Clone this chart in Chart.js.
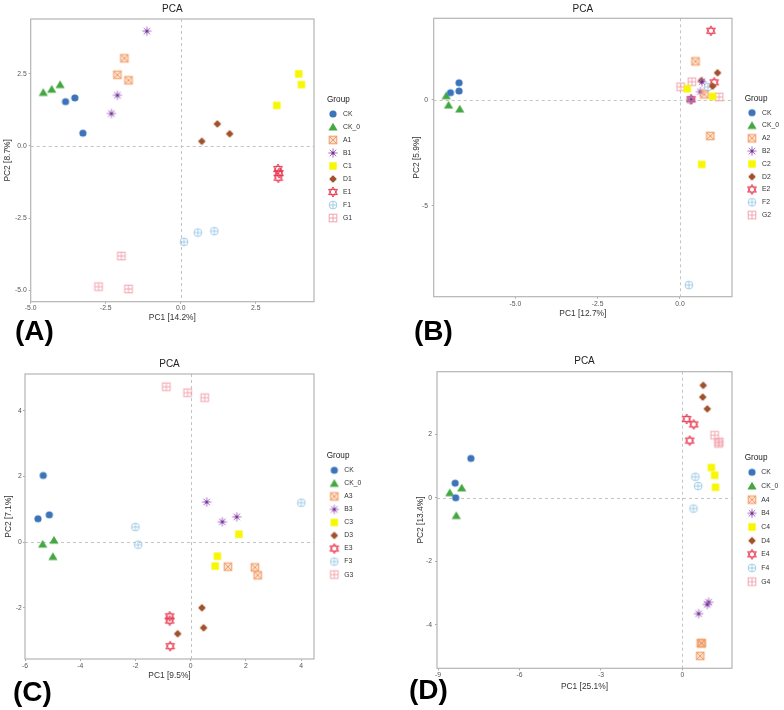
<!DOCTYPE html>
<html><head><meta charset="utf-8">
<script src="https://cdn.jsdelivr.net/npm/chart.js@4"></script>
<style>
body{margin:0;background:#fff;width:784px;height:710px;position:relative;overflow:hidden;font-family:"Liberation Sans",Arial,sans-serif}
.pan{position:absolute;width:392px;height:355px}
.lab{position:absolute;font-weight:bold;font-size:28px;line-height:28px;color:#000;white-space:nowrap}
</style></head><body>
<div class="pan" style="left:0;top:0"><canvas id="cA" width="392" height="355"></canvas></div>
<div class="pan" style="left:392px;top:0"><canvas id="cB" width="392" height="355"></canvas></div>
<div class="pan" style="left:0;top:355px"><canvas id="cC" width="392" height="355"></canvas></div>
<div class="pan" style="left:392px;top:355px"><canvas id="cD" width="392" height="355"></canvas></div>
<div class="lab" style="left:15px;top:317px">(A)</div>
<div class="lab" style="left:414px;top:317px">(B)</div>
<div class="lab" style="left:13px;top:678px">(C)</div>
<div class="lab" style="left:409px;top:676px">(D)</div>
<script>
// ---------- DATA ----------
const groupsA = ["CK","CK_0","A1","B1","C1","D1","E1","F1","G1"];
const xA = [[-3.84,-3.53,-3.26],[-4.58,-4.30,-4.02],[-1.88,-2.11,-1.74],[-1.13,-2.11,-2.31],[3.93,4.02,3.20],[1.22,1.63,0.70],[3.24,3.27,3.25],[0.11,0.57,1.12],[-1.98,-2.74,-1.74]];
const yA = [[1.53,1.66,0.44],[1.85,1.96,2.12],[3.03,2.46,2.27],[3.97,1.75,1.12],[2.49,2.12,1.40],[0.76,0.42,0.16],[-0.80,-0.94,-1.10],[-3.32,-3.00,-2.95],[-3.81,-4.87,-4.95]];
const xTicksA = [-5.0,-2.5,0.0,2.5];
const yTicksA = [-5.0,-2.5,0.0,2.5];

const groupsB = ["CK","CK_0","A2","B2","C2","D2","E2","F2","G2"];
const xB = [[-6.71,-6.97,-6.71],[-7.10,-7.03,-6.69],[0.47,0.92,0.74],[0.67,0.62,0.34],[0.22,0.99,0.66],[0.65,1.14,0.99],[0.94,1.04,0.34],[0.27,0.85,0.31],[0.02,0.36,1.19]];
const yB = [[0.80,0.33,0.41],[0.19,-0.25,-0.44],[1.81,-1.71,0.25],[0.85,0.38,0.02],[0.52,0.16,-3.05],[0.90,1.27,0.64],[3.25,0.82,0.02],[-8.74,0.60,-0.02],[0.61,0.85,0.13]];
const xTicksB = [-5.0,-2.5,0.0];
const yTicksB = [-5,0];

const groupsC = ["CK","CK_0","A3","B3","C3","D3","E3","F3","G3"];
const xC = [[-5.34,-5.53,-5.12],[-5.36,-4.95,-4.99],[1.35,2.33,2.43],[0.58,1.15,1.67],[1.75,0.97,0.89],[0.41,0.47,-0.47],[-0.76,-0.76,-0.74],[-2.00,-1.90,4.01],[-0.88,-0.11,0.51]];
const yC = [[2.03,0.71,0.83],[-0.06,0.06,-0.44],[-0.75,-0.77,-1.01],[1.22,0.62,0.77],[0.24,-0.43,-0.73],[-2.00,-2.61,-2.79],[-2.26,-2.39,-3.17],[0.46,-0.08,1.20],[4.73,4.55,4.40]];
const xTicksC = [-6,-4,-2,0,2,4];
const yTicksC = [-2,0,2,4];

const groupsD = ["CK","CK_0","A4","B4","C4","D4","E4","F4","G4"];
const xD = [[-7.79,-8.37,-8.35],[-8.57,-8.13,-8.33],[0.68,0.72,0.66],[0.97,0.92,0.60],[1.07,1.19,1.22],[0.77,0.75,0.92],[0.16,0.42,0.27],[0.48,0.58,0.41],[1.19,1.36,1.33]];
const yD = [[1.24,0.46,0.00],[0.16,0.31,-0.56],[-4.58,-4.58,-4.98],[-3.29,-3.36,-3.65],[0.95,0.71,0.33],[3.54,3.17,2.80],[2.48,2.31,1.80],[0.66,0.37,-0.34],[1.97,1.76,1.71]];
const xTicksD = [-9,-6,-3,0];
const yTicksD = [-4,-2,0,2];

// ---------- STYLE ----------
const FF = '"Liberation Sans", Arial, sans-serif';
const colors = ['#3B74B9','#45A743','#F29A62','#A76BC2','#F7F700','#A0522D','#E8364E','#A3CDE8','#F2A3AE'];

function mk(draw){const c=document.createElement('canvas');c.width=12;c.height=12;const x=c.getContext('2d');draw(x,6);return c;}
const markers = [
  mk((x,c)=>{x.fillStyle=colors[0];x.beginPath();x.arc(c,c,3.6,0,Math.PI*2);x.fill();}),
  mk((x,c)=>{x.fillStyle=colors[1];x.beginPath();x.moveTo(c,c-4.3);x.lineTo(c+4.6,c+3.5);x.lineTo(c-4.6,c+3.5);x.closePath();x.fill();}),
  mk((x,c)=>{x.fillStyle='rgba(242,154,98,0.28)';x.fillRect(c-3.8,c-3.8,7.6,7.6);x.strokeStyle=colors[2];x.lineWidth=1;x.strokeRect(c-3.8,c-3.8,7.6,7.6);x.beginPath();x.moveTo(c-3.8,c-3.8);x.lineTo(c+3.8,c+3.8);x.moveTo(c+3.8,c-3.8);x.lineTo(c-3.8,c+3.8);x.stroke();}),
  mk((x,c)=>{x.strokeStyle=colors[3];x.lineWidth=1;x.beginPath();for(let k=0;k<4;k++){const a=k*Math.PI/4;x.moveTo(c-4.6*Math.cos(a),c-4.6*Math.sin(a));x.lineTo(c+4.6*Math.cos(a),c+4.6*Math.sin(a));}x.stroke();x.fillStyle='#6E2F8E';x.beginPath();x.arc(c,c,1.5,0,Math.PI*2);x.fill();}),
  mk((x,c)=>{x.fillStyle=colors[4];x.fillRect(c-3.7,c-3.7,7.4,7.4);}),
  mk((x,c)=>{x.fillStyle=colors[5];x.beginPath();x.arc(c,c,2.5,0,Math.PI*2);x.fill();x.fillRect(c-3.3,c-1.3,6.6,2.6);x.fillRect(c-1.3,c-3.3,2.6,6.6);}),
  mk((x,c)=>{x.strokeStyle=colors[6];x.lineWidth=1;x.beginPath();x.moveTo(c,c-5);x.lineTo(c+4.4,c+2.6);x.lineTo(c-4.4,c+2.6);x.closePath();x.moveTo(c,c+5);x.lineTo(c+4.4,c-2.6);x.lineTo(c-4.4,c-2.6);x.closePath();x.stroke();}),
  mk((x,c)=>{x.strokeStyle=colors[7];x.lineWidth=1;x.beginPath();x.arc(c,c,3.9,0,Math.PI*2);x.moveTo(c-3.9,c);x.lineTo(c+3.9,c);x.moveTo(c,c-3.9);x.lineTo(c,c+3.9);x.stroke();}),
  mk((x,c)=>{x.strokeStyle=colors[8];x.lineWidth=1;x.strokeRect(c-3.8,c-3.8,7.6,7.6);x.beginPath();x.moveTo(c-3.8,c);x.lineTo(c+3.8,c);x.moveTo(c,c-3.8);x.lineTo(c,c+3.8);x.stroke();})
];

const framePlugin = {
  id:'frame',
  beforeDatasetsDraw(chart){
    const {ctx,chartArea:a,scales:{x,y}} = chart;
    ctx.save();
    ctx.strokeStyle='#C4C4C4';ctx.lineWidth=1;ctx.setLineDash([3,3]);
    const px=Math.round(x.getPixelForValue(0))+0.5, py=Math.round(y.getPixelForValue(0))+0.5;
    ctx.beginPath();ctx.moveTo(px,a.top);ctx.lineTo(px,a.bottom);ctx.moveTo(a.left,py);ctx.lineTo(a.right,py);ctx.stroke();
    ctx.setLineDash([]);ctx.strokeStyle='#B4B4B4';ctx.lineWidth=1.2;
    ctx.strokeRect(a.left,a.top,a.right-a.left,a.bottom-a.top);
    ctx.restore();
  }
};
const legendPlugin = {
  id:'lg',
  afterDraw(chart,args,o){
    const ctx=chart.ctx;ctx.save();
    ctx.textBaseline='middle';ctx.textAlign='left';
    ctx.fillStyle='#222';ctx.font='8.2px '+FF;
    ctx.fillText('Group',o.gx,o.gy);
    ctx.font='6.8px '+FF;ctx.fillStyle='#333';
    chart.data.datasets.forEach((d,i)=>{
      const yy=o.y0+i*o.dy;const m=markers[i];
      ctx.drawImage(m,o.mx-m.width/2,yy-m.height/2);
      ctx.fillText(d.label,o.tx,yy);
    });
    ctx.restore();
  }
};

function makePanel(id,groups,xs,ys,xt,yt,xfmt,yfmt,xtitle,ytitle,g){
  const W=392,H=355;
  const datasets=groups.map((lab,i)=>({
    label:lab,
    data:xs[i].map((v,j)=>({x:v,y:ys[i][j]})),
    pointStyle:markers[i],pointRadius:4,pointHoverRadius:4,
    backgroundColor:colors[i],borderColor:colors[i],showLine:false
  }));
  const tickFont={family:FF,size:6.8};
  const titleFont={family:FF,size:8.4};
  new Chart(document.getElementById(id),{
    type:'scatter',
    data:{datasets},
    options:{
      responsive:false,animation:false,events:[],
      layout:{padding:{left:0,top:0,right:W-g.R,bottom:0}},
      plugins:{
        legend:{display:false},tooltip:{enabled:false},
        title:{display:true,text:'PCA',fullSize:false,color:'#222',font:{family:FF,size:10,weight:'normal'},padding:{top:g.tpt,bottom:g.tpb}},
        lg:g.lg
      },
      scales:{
        x:{type:'linear',position:'bottom',min:g.xmin,max:g.xmax,
          afterBuildTicks:s=>{s.ticks=xt.map(v=>({value:v}));},
          afterFit:s=>{s.height=H-g.B;},
          ticks:{callback:v=>xfmt(v),font:tickFont,color:'#555',padding:g.xtp,maxRotation:0,autoSkip:false},
          grid:{display:true,drawOnChartArea:false,drawTicks:true,tickLength:2,color:'#AAA'},
          border:{display:false},
          title:{display:true,text:xtitle,color:'#333',font:titleFont,padding:{top:0,bottom:g.xtb}}},
        y:{type:'linear',position:'left',min:g.ymin,max:g.ymax,
          afterBuildTicks:s=>{s.ticks=yt.map(v=>({value:v}));},
          afterFit:s=>{s.width=g.L;},
          ticks:{callback:v=>yfmt(v),font:tickFont,color:'#555',padding:g.ytp,autoSkip:false},
          grid:{display:true,drawOnChartArea:false,drawTicks:true,tickLength:2,color:'#AAA'},
          border:{display:false},
          title:{display:true,text:ytitle,color:'#333',font:titleFont,padding:{top:g.ytt,bottom:0}}}
      }
    },
    plugins:[framePlugin,legendPlugin]
  });
}
const f1=v=>v.toFixed(1), f0=v=>String(v);
makePanel('cA',groupsA,xA,yA,xTicksA,yTicksA,f1,f1,'PC1 [14.2%]','PC2 [8.7%]',
  {L:30.7,R:314,B:301.7,tpt:3.3,tpb:3.7,xmin:-5.0,xmax:4.44,ymin:-5.39,ymax:4.39,xtp:0.5,ytp:2,xtb:32.7,ytt:2.3,
   lg:{gx:327,gy:100,y0:114,dy:13,mx:333,tx:343}});
makePanel('cB',groupsB,xB,yB,xTicksB,yTicksB,f1,f0,'PC1 [12.7%]','PC2 [5.9%]',
  {L:41.7,R:340,B:296.7,tpt:3.7,tpb:2.6,xmin:-7.48,xmax:1.58,ymin:-9.29,ymax:3.84,xtp:1.3,ytp:3.7,xtb:36.7,ytt:20,
   lg:{gx:352.7,gy:98.7,y0:112.7,dy:12.8,mx:360,tx:370}});
makePanel('cC',groupsC,xC,yC,xTicksC,yTicksC,f0,f0,'PC1 [9.5%]','PC2 [7.1%]',
  {L:25,R:314,B:304,tpt:3.3,tpb:3.7,xmin:-6,xmax:4.47,ymin:-3.56,ymax:5.12,xtp:0.7,ytp:1.3,xtb:29.3,ytt:3.3,
   lg:{gx:326.7,gy:100.7,y0:115.3,dy:13.04,mx:334.3,tx:344.3}});
makePanel('cD',groupsD,xD,yD,xTicksD,yTicksD,f0,f0,'PC1 [25.1%]','PC2 [13.4%]',
  {L:45,R:340,B:313.3,tpt:0.7,tpb:4,xmin:-9.04,xmax:1.83,ymin:-5.37,ymax:3.97,xtp:0.7,ytp:3,xtb:18.3,ytt:23.3,
   lg:{gx:352.7,gy:102.3,y0:117.3,dy:13.67,mx:360,tx:369.3}});
</script>
</body></html>
